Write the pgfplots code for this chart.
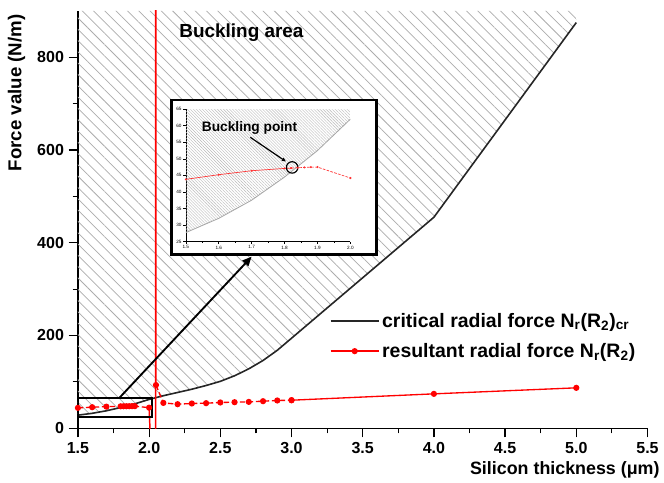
\documentclass[border=0pt]{standalone}
\usepackage{fontspec}
\setmainfont{Liberation Sans}
\usepackage{pgfplots}
\pgfplotsset{compat=1.18}
\usepackage{pgfplotstable}
\usetikzlibrary{patterns.meta,arrows.meta}

% critical radial force N_r(R_2)_cr
\pgfplotstableread{
t N
1.5 28
1.6 32
1.7 37.5
1.8 44.5
1.9 52.5
2.0 62
2.1 70
2.2 77
2.3 84
2.4 92
2.5 101
2.6 113
2.7 128
2.8 146
2.9 168
3.0 194
4.0 455
5.0 875
}\critical

% buckling area: above the critical curve
\pgfplotstableread{
t N
1.5 28
1.6 32
1.7 37.5
1.8 44.5
1.9 52.5
2.0 62
2.1 70
2.2 77
2.3 84
2.4 92
2.5 101
2.6 113
2.7 128
2.8 146
2.9 168
3.0 194
4.0 455
5.0 875
5.0 900
1.5 900
}\buckarea

% resultant radial force N_r(R_2)
\pgfplotstableread{
t N
1.5 43.8
1.6 45.2
1.7 46.4
1.8 47.1
1.82 47.2
1.84 47.3
1.86 47.4
1.88 47.5
1.9 47.5
2.0 44.2
}\resultA

\pgfplotstableread{
t N
2.0 44.2
2.045 -300
2.046 1500
2.048 93
}\resultS

\pgfplotstableread{
t N
2.048 93
2.1 54.5
2.2 51.7
2.3 53.2
2.4 53.9
2.5 55.4
2.6 56.0
2.7 56.7
2.8 58.2
2.9 59.7
3.0 60.3
}\resultB

\pgfplotstableread{
t N
3.0 60.3
4.0 74
5.0 87
}\resultC

\begin{document}
\begin{tikzpicture}
\path (-58.5pt,-40.875pt) rectangle (439.5pt,321.375pt);

\begin{axis}[
  at={(0pt,0pt)}, anchor=south west, scale only axis,
  width=427.5pt, height=313.125pt,
  xmin=1.5, xmax=5.5, ymin=0, ymax=900,
  axis lines=left, axis line style={-, line width=0.9pt},
  xtick={1.5,2,...,5.5}, minor x tick num=1,
  ytick={0,200,...,800}, minor y tick num=1,
  tick align=outside, major tick length=7pt, minor tick length=4pt,
  every tick/.style={black, line width=0.9pt},
  /pgf/number format/assume math mode=true,
  xticklabel style={/pgf/number format/.cd, fixed, fixed zerofill, precision=1},
  ticklabel style={font=\bfseries\fontsize{12}{14}\selectfont},
  xlabel={Silicon thickness (μm)},
  ylabel={Force value (N/m)},
  label style={font=\bfseries\fontsize{14}{16}\selectfont},
  xlabel style={at={(rel axis cs:1.0295,-0.110)}, anchor=base east, font=\bfseries\fontsize{13.4}{16}\selectfont},
  ylabel style={at={(rel axis cs:-0.0991,1.0024)}, anchor=base east},
  legend image code/.code={\draw[mark repeat=2, mark phase=2, #1] plot coordinates {(0pt,0pt) (18pt,0pt) (36pt,0pt)};},
  legend style={at={(rel axis cs:0.442,0.283)}, anchor=north west, draw=none, fill=none,
    inner sep=0pt, row sep=6.5pt, font=\bfseries\fontsize{14.6}{16.5}\selectfont,
    nodes={inner sep=2pt}},
  legend cell align=left,
]
\addplot[draw=none, pattern={Lines[angle=-45, distance=6pt, line width=0.55pt]}, pattern color=gray!65, forget plot]
  table {\buckarea} -- cycle;
\addplot[black!85, line width=1.2pt, forget plot] table {\critical};

\addplot[red, line width=1pt, dash pattern=on 4pt off 2pt, mark=*, mark size=1.8pt, mark options={solid}, forget plot]
  table {\resultA};
\addplot[red, line width=1.1pt, forget plot] table {\resultS};
\addplot[red, line width=1pt, dash pattern=on 4pt off 2pt, mark=*, mark size=1.8pt, mark options={solid}, forget plot]
  table {\resultB};
\addplot[red, line width=1pt, mark=*, mark size=1.8pt, forget plot] table {\resultC};

\draw[line width=1.5pt] (axis cs:1.5,25) rectangle (axis cs:2.02,65);
\draw[line width=1.4pt, -{Triangle[length=7pt,width=6pt]}] (axis cs:1.79,65) -- (axis cs:2.72,370);
\node[anchor=base west, inner sep=0pt, font=\bfseries\fontsize{14.2}{16}\selectfont]
  at (axis cs:2.211,843) {Buckling area};

\addlegendimage{black!85, line width=1.2pt}
\addlegendentry{critical radial force N\textsubscript{r}(R\textsubscript{2})\textsubscript{cr}}
\addlegendimage{red, line width=1pt, mark=*, mark size=1.8pt}
\addlegendentry{resultant radial force N\textsubscript{r}(R\textsubscript{2})}
\end{axis}

% magnified view around the buckling point
\draw[line width=2pt, fill=white] (70.3pt,130.1pt) rectangle (224.25pt,246.4pt);
\begin{axis}[
  at={(81pt,140.1pt)}, anchor=south west, scale only axis,
  width=123.5pt, height=99.3pt,
  xmin=1.5, xmax=2.0, ymin=25, ymax=65,
  axis lines=left, axis line style={-, line width=0.5pt},
  xtick={1.5,1.6,1.7,1.8,1.9,2.0}, ytick={25,30,...,65},
  minor x tick num=1,
  tick align=outside, major tick length=2pt, minor tick length=1pt,
  every tick/.style={black, line width=0.4pt},
  /pgf/number format/assume math mode=true,
  xticklabel style={/pgf/number format/.cd, fixed, fixed zerofill, precision=1},
  ticklabel style={font=\fontsize{3.5}{4}\selectfont, inner sep=1pt},
]
\addplot[draw=none, pattern={Lines[angle=-45, distance=1.6pt, line width=0.3pt]}, pattern color=gray!55]
  coordinates {(1.5,27.7) (1.6,32) (1.7,37.5) (1.8,44.5) (1.9,52.5) (2.0,62) (2.0,65) (1.5,65)} -- cycle;
\addplot[gray!70, line width=0.6pt] coordinates {(1.5,27.7) (1.6,32) (1.7,37.5) (1.8,44.5) (1.9,52.5) (2.0,62)};
\addplot[red!80, line width=0.5pt, mark=*, mark size=0.5pt, restrict x to domain=1.5:1.83] table {\resultA};
\addplot[red!80, line width=0.5pt, dash pattern=on 2pt off 1pt, mark=*, mark size=0.5pt, mark options={solid}, restrict x to domain=1.81:2.0] table {\resultA};
\draw[line width=0.9pt] (axis cs:1.823,47.4) circle[radius=4.3pt];
\draw[line width=0.9pt, -{Triangle[length=3pt,width=2.6pt]}] (axis cs:1.696,56.5) -- (axis cs:1.804,49.2);
\node[anchor=base west, inner sep=0pt, font=\bfseries\fontsize{10.3}{12}\selectfont]
  at (axis cs:1.548,58.4) {Buckling point};
\end{axis}
\end{tikzpicture}
\end{document}
